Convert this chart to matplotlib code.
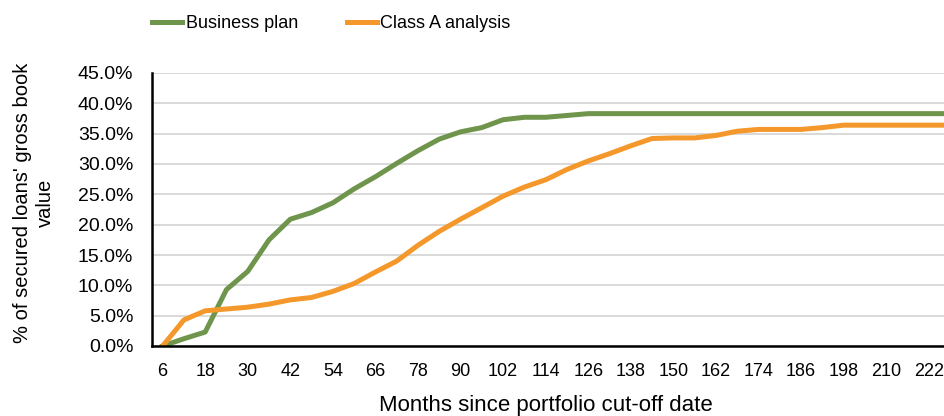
import numpy as np
import matplotlib
matplotlib.use('Agg')
from matplotlib import pyplot as plt

## data (the chart is cropped on the right, 228 is the last category)
months = list(range(6, 229, 6))
business_plan = [0.0, 1.2, 2.3, 9.3, 12.3, 17.5, 20.9, 22.0, 23.6, 25.9,
                 27.9, 30.1, 32.2, 34.1, 35.3, 36.0, 37.3, 37.7, 37.7, 38.0,
                 38.3, 38.3, 38.3, 38.3, 38.3, 38.3, 38.3, 38.3, 38.3, 38.3,
                 38.3, 38.3, 38.3, 38.3, 38.3, 38.3, 38.3, 38.3]
class_a = [0.0, 4.3, 5.8, 6.1, 6.4, 6.9, 7.6, 8.0, 9.0, 10.3,
           12.2, 14.0, 16.6, 18.9, 20.9, 22.8, 24.7, 26.2, 27.4, 29.1,
           30.5, 31.7, 33.0, 34.2, 34.3, 34.3, 34.7, 35.4, 35.7, 35.7,
           35.7, 36.0, 36.4, 36.4, 36.4, 36.4, 36.4, 36.4]
y_ticks = [0, 5, 10, 15, 20, 25, 30, 35, 40, 45]

plt.rcParams['font.family'] = ['Liberation Sans', 'DejaVu Sans']

W, H = 944, 416
fig = plt.figure(figsize=(9.44, 4.16), dpi=100)
# axes runs past the right edge, as in the cropped original
ax = fig.add_axes([152/W, 70/H, 808.6/W, 273/H])

x = np.arange(len(months))
ax.plot(x, business_plan, color='#6F954C', lw=3.6, label='Business plan')
ax.plot(x, class_a, color='#F4982B', lw=3.6, label='Class A analysis')

ax.set_xlim(-0.5, len(months) - 0.5)
ax.set_ylim(0, 45)
ax.set_yticks(y_ticks)
ax.set_yticklabels(['%.1f%%' % v for v in y_ticks], fontsize=14)
ax.set_xticks(x[::2])
ax.set_xticklabels([str(m) for m in months[::2]], fontsize=13)
ax.tick_params(axis='both', length=0, colors='black')
ax.tick_params(axis='y', pad=13.5)
ax.tick_params(axis='x', pad=12)

ax.grid(axis='y', color='#D9D9D9', lw=1.4)
ax.set_axisbelow(True)
for s in ['top', 'right']:
    ax.spines[s].set_visible(False)
for s in ['left', 'bottom']:
    ax.spines[s].set_linewidth(1.8)
    ax.spines[s].set_color('black')

fig.text(546/W, 1 - 405/H, 'Months since portfolio cut-off date', fontsize=16,
         ha='center', va='center')
fig.text(34/W, 1 - 203/H, "% of secured loans' gross book\nvalue", fontsize=14.5,
         ha='center', va='center', rotation=90, linespacing=1.2, multialignment='center')

fig.legend(loc='center left', bbox_to_anchor=(152/W, 1 - 24/H), ncol=2, frameon=False,
           fontsize=13, handlelength=1.66, handletextpad=0.2, columnspacing=2.7,
           borderpad=0, borderaxespad=0)

fig.savefig('out.png', dpi=100)
